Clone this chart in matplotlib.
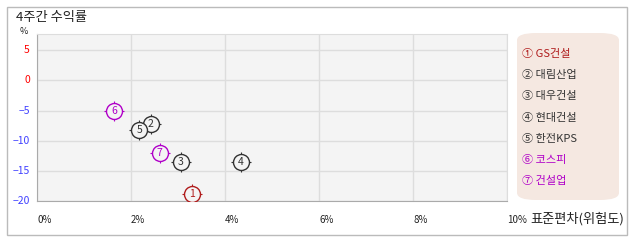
import matplotlib
matplotlib.use('Agg')
import matplotlib.pyplot as plt
from matplotlib.patches import FancyBboxPatch, Rectangle

plt.rcParams['font.family'] = ['Noto Sans CJK KR', 'DejaVu Sans']

# data
labels = ['GS건설', '대림산업', '대우건설', '현대건설', '한전KPS', '코스피', '건설업']
nums = ['1', '2', '3', '4', '5', '6', '7']
risk = [3.29, 2.42, 3.06, 4.33, 2.18, 1.64, 2.61]
ret = [-18.9, -7.2, -13.6, -13.6, -8.2, -5.1, -12.1]
colors = ['#b01c1c', '#333333', '#333333', '#333333', '#333333', '#b000c8', '#b000c8']
yticks = [5, 0, -5, -10, -15, -20]
ytick_colors = ['#ff0000', '#ff0000', '#4040ff', '#4040ff', '#4040ff', '#4040ff']
xticks = [0, 2, 4, 6, 8, 10]

W, H = 638, 242
fig = plt.figure(figsize=(W / 100, H / 100), dpi=100)

# outer frame
fig.patches.append(Rectangle((7 / W, 1 - 235 / H), 620 / W, 228 / H, transform=fig.transFigure,
                             facecolor='white', edgecolor='#bbbbbb', lw=1, zorder=-5))
fig.text(16 / W, 1 - 18 / H, '4주간 수익률', fontsize=9.5, color='#222222', va='center')

# plot area: x 37..507, y 34..201
ax = fig.add_axes([37 / W, 1 - 201 / H, 470 / W, 167 / H])
ax.set_facecolor('#f4f4f4')
ax.set_xlim(0, 10)
ax.set_ylim(-20, 7.7)
ax.grid(True, color='#dddddd', lw=1)
ax.set_axisbelow(True)
for s in ['top', 'right']:
    ax.spines[s].set_color('#dddddd')
for s in ['left', 'bottom']:
    ax.spines[s].set_color('#aaaaaa')
ax.set_xticks(xticks)
ax.set_xticklabels([])
ax.set_yticks(yticks)
ax.set_yticklabels([])
ax.tick_params(length=0)

for v in xticks:
    ax.text(v, -22.3, f'{v}%', fontsize=7, color='#222222', ha='left', va='top')
for v, c in zip(yticks, ytick_colors):
    ax.text(-0.15, v, str(v).replace('-', '−'), fontsize=7.5, color=c, ha='right', va='center')
ax.text(-0.2, 8.1, '%', fontsize=6.5, color='#222222', ha='right', va='center', clip_on=False)
ax.text(10.5, -21.8, '표준편차(위험도)', fontsize=9.5, color='#222222', ha='left', va='top')

for x, y, n, c in zip(risk, ret, nums, colors):
    ax.plot(x, y, marker='+', ms=15, mew=0.8, color=c, ls='none', zorder=3)
    ax.plot(x, y, marker='o', ms=11.5, mfc='#f4f4f4', mec=c, mew=1, ls='none', zorder=4)
    ax.text(x, y, n, fontsize=7.5, color=c, ha='center', va='center', zorder=5)

# legend box
fig.patches.append(FancyBboxPatch((517 / W, 1 - 200 / H), 102 / W, 167 / H,
                                  boxstyle='round,pad=0,rounding_size=0.03',
                                  transform=fig.transFigure, facecolor='#f5e8e1',
                                  edgecolor='none'))
circ = ['①', '②', '③', '④', '⑤', '⑥', '⑦']
for i, (lab, c) in enumerate(zip(labels, colors)):
    yy = 54 + i * 21.2
    fig.text(522 / W, 1 - yy / H, circ[i] + ' ' + lab, fontsize=8, color=c, va='center')

fig.savefig('out.png', dpi=100)
